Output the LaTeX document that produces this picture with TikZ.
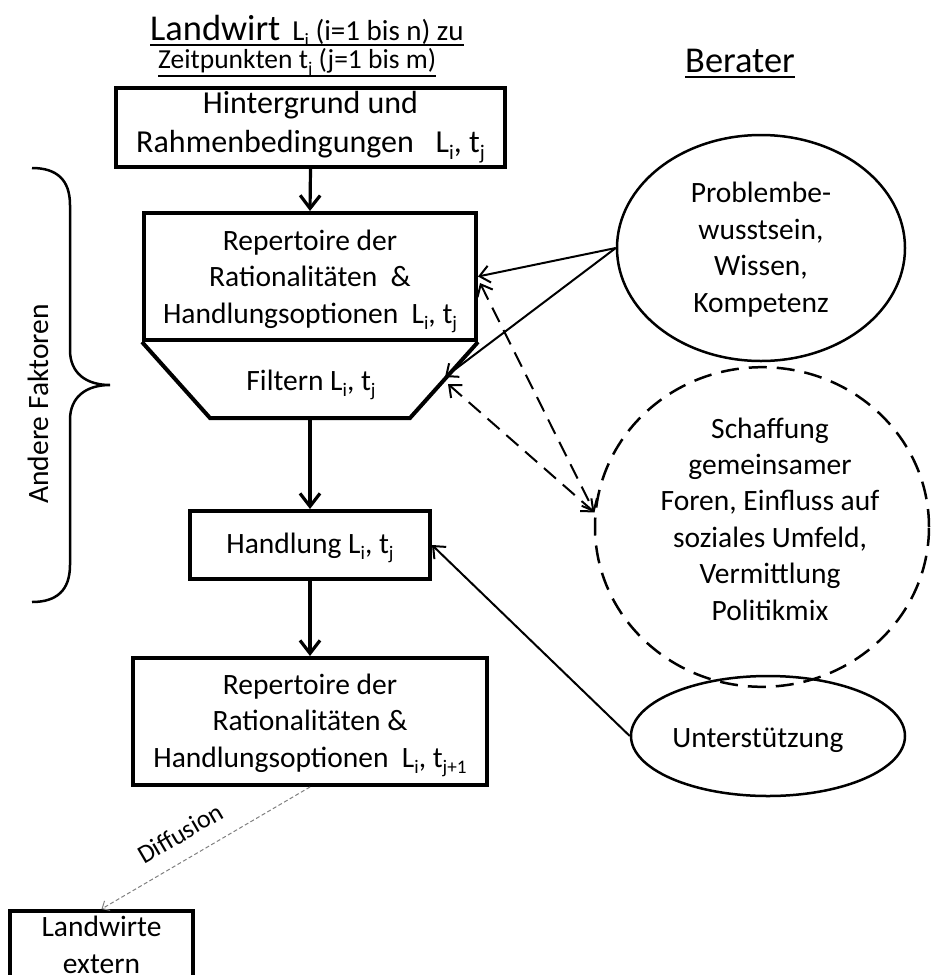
\documentclass[tikz,border=0pt]{standalone}
\usepackage{fontspec}
\setmainfont{Carlito}
\usepackage{graphicx}
\usetikzlibrary{arrows.meta,shapes.geometric}
\newcommand\sbx[1]{\raisebox{-0.22em}{\scalebox{0.65}{#1}}}
\newcommand\bodyfont{\fontsize{29.5}{36.4}\selectfont}
\newcommand\boxonefont{\fontsize{32}{39}\selectfont}
\newcommand\bigfont{\fontsize{36.4}{40}\selectfont}
\newcommand\smallfont{\fontsize{29}{32}\selectfont}
\newcommand\smallerfont{\fontsize{27.5}{32}\selectfont}
\begin{document}
\begin{tikzpicture}[x=1pt,y=-1pt,
  box/.style={draw, line width=4pt, inner sep=0pt, align=center, font=\bodyfont},
  ell/.style={draw, ellipse, line width=2.5pt, inner sep=0pt, align=center, font=\bodyfont},
  thickarrow/.style={line width=3.2pt, -{Straight Barb[length=13pt,width=20pt]}},
  thinarrow/.style={line width=2pt, -{Straight Barb[length=10pt,width=17pt]}},
  dasharrow/.style={line width=2pt, dash pattern=on 16pt off 9pt, {Straight Barb[length=10pt,width=17pt]}-{Straight Barb[length=10pt,width=17pt]}},
  diffarrow/.style={line width=1pt, draw=gray, dash pattern=on 4pt off 2.5pt, -{Straight Barb[length=6pt,width=11pt]}},
  title/.style={anchor=base west, inner sep=0pt},
  uline/.style={line width=2.5pt}
]
\useasboundingbox (0,0) rectangle (937,975);

% titles
\node[title] (t1) at (150,40) {{\bigfont Landwirt}\hspace{12pt}{\smallfont L\sbx{i} (i=1 bis n) zu}};
\draw[uline] ([yshift=-5pt]t1.base west) -- ([yshift=-5pt]t1.base east);
\node[title, font=\smallerfont] (t2) at (158,68) {Zeitpunkten t\sbx{j} (j=1 bis m)};
\draw[uline] ([yshift=-8pt]t2.base west) -- ([yshift=-8pt]t2.base east);
\node[title, font=\bigfont] (ber) at (685,72) {Berater};
\draw[uline] ([yshift=-5pt]ber.base west) -- ([yshift=-5pt]ber.base east);

% farmer chain
\node[box, font=\boxonefont, minimum width=389, minimum height=79, text height=63pt, text depth=14pt] (bg) at (310.5,127.5)
  {Hintergrund und\\Rahmenbedingungen\hspace{0.45em} L\sbx{i}, t\sbx{j}};
\node[box, minimum width=332, minimum height=127, text height=99pt, text depth=6pt] (rep) at (310,276.5)
  {Repertoire der\\Rationalitäten~ \&\\Handlungsoptionen~ L\sbx{i}, t\sbx{j}};
\draw[line width=4pt, line join=miter] (rep.south west) -- (210,418) -- (410,418) -- (rep.south east);
\node[font=\bodyfont, anchor=base, inner sep=0pt] (filt) at (311,390) {Filtern L\sbx{i}, t\sbx{j}};
\coordinate (fb) at (310,418);
\coordinate (tr) at (445,377);
\coordinate (rd) at (480,283);
\coordinate (td) at (448,384);
\node[box, minimum width=240, minimum height=68, text height=24pt, text depth=8pt] (hand) at (310,545) {Handlung L\sbx{i}, t\sbx{j}};
\node[box, minimum width=354, minimum height=127, text height=99pt, text depth=8pt] (rep2) at (310,721.5)
  {Repertoire der\\Rationalitäten \&\\Handlungsoptionen~ L\sbx{i}, t\sbx{j+1}};
\node[box, anchor=north, minimum width=183, text height=62pt, text depth=20pt] (ext) at (101.5,909) {Landwirte\\extern};

\draw[thickarrow] (bg.south) -- (rep.north);
\draw[thickarrow] (fb) -- (hand.north);
\draw[thickarrow] (hand.south) -- (rep2.north);
\draw[diffarrow] (rep2.south) -- node[sloped, above=16pt, inner sep=0pt, font=\fontsize{26}{30}\selectfont, pos=0.56, text=black] {Diffusion} (ext.north);

% advisor
\node[ell, minimum width=288, minimum height=226, text height=133.2pt, text depth=5.2pt] (e1) at (761,248)
  {Problembe-\\wusstsein,\\Wissen,\\Kompetenz};
\node[ell, dash pattern=on 18pt off 10pt, minimum width=334, minimum height=264, text height=206pt, text depth=20pt] (e2) at (762,527)
  {\hspace*{16pt}Schaffung\\\hspace*{16pt}gemeinsamer\\\hspace*{16pt}Foren, Einfluss auf\\\hspace*{16pt}soziales Umfeld,\\\hspace*{16pt}Vermittlung\\\hspace*{16pt}Politikmix};
\node[ell, minimum width=274, minimum height=120, text height=28pt, text depth=6pt] (e3) at (768,736) {\hspace*{-20pt}Unterstützung};

\draw[thinarrow] (e1.west) -- (rep.east);
\draw[thinarrow] (e1.west) -- (tr);
\draw[dasharrow] (rd) -- (e2.175);
\draw[dasharrow] (td) -- (e2.175);
\draw[thinarrow] (e3.west) -- (hand.east);

% brace
\draw[line width=2.5pt] (32,168) .. controls (57,168) and (70,180) .. (70,205)
  -- (70,350) .. controls (70,373) and (86,385) .. (110,385)
  .. controls (86,385) and (70,397) .. (70,420)
  -- (70,565) .. controls (70,590) and (57,602) .. (32,602);
\node[font=\bodyfont, rotate=90, inner sep=0pt] (af) at (38,404) {Andere Faktoren};
\end{tikzpicture}
\end{document}
